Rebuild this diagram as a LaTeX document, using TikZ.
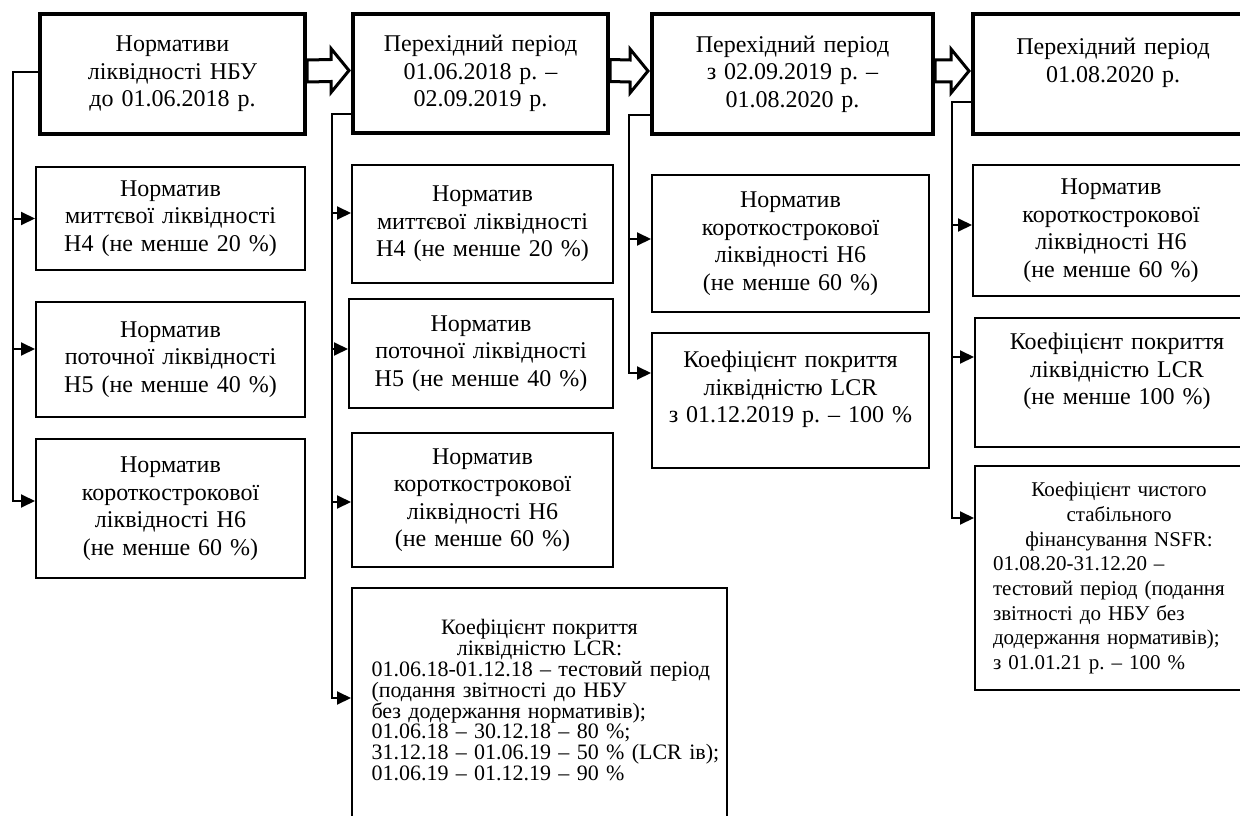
\documentclass[tikz,border=0pt]{standalone}
\usepackage{fontspec}
\setmainfont{Liberation Serif}
\frenchspacing
\usetikzlibrary{arrows.meta}

\tikzset{
	stagebox/.style={draw, line width=4pt, align=center, text width=240pt, inner sep=2pt, font=\fontsize{24}{27.5}\selectfont},
	normbox/.style={draw, line width=2pt, align=center, text width=240pt, inner sep=2pt, font=\fontsize{24}{27.5}\selectfont},
	feed/.style={line width=2pt, -{Triangle[length=14pt,width=13pt]}},
	blockarr/.style={draw, line width=3pt, fill=white},
}

\begin{document}
\begin{tikzpicture}[x=1pt,y=-1pt]
	\path[use as bounding box, clip] (0,0) rectangle (1240,816);

	\node[stagebox, minimum width=265, minimum height=120] (top1) at (172.5,74) {Нормативи\\ліквідності НБУ\\до 01.06.2018 р.};
	\node[stagebox, minimum width=255, minimum height=119] (top2) at (480.5,73.5) {Перехідний період\\01.06.2018 р. –\\02.09.2019 р.};
	\node[stagebox, minimum width=281, minimum height=120] (top3) at (792.5,74) {Перехідний період\\з 02.09.2019 р. –\\01.08.2020 р.};
	\node[stagebox, minimum width=280, minimum height=120] (top4) at (1113,74) {Перехідний період\\01.08.2020 р.\\\mbox{}};

	\node[normbox, minimum width=269, minimum height=103] (c1a) at (170.5,218.5) {Норматив\\миттєвої ліквідності\\Н4 (не менше 20~\%)};
	\node[normbox, minimum width=269, minimum height=115] (c1b) at (170.5,359.5) {Норматив\\поточної ліквідності\\Н5 (не менше 40~\%)};
	\node[normbox, minimum width=269, minimum height=139] (c1c) at (170.5,508.5) {Норматив\\короткострокової\\ліквідності Н6\\(не менше 60~\%)};

	\node[normbox, minimum width=261, minimum height=118] (c2a) at (482.5,224) {Норматив\\миттєвої ліквідності\\Н4 (не менше 20~\%)};
	\node[normbox, minimum width=264, minimum height=109] (c2b) at (481,353.5) {Норматив\\поточної ліквідності\\Н5 (не менше 40~\%)};
	\node[normbox, minimum width=261, minimum height=134] (c2c) at (482.5,500) {Норматив\\короткострокової\\ліквідності Н6\\(не менше 60~\%)};
	\node[normbox, align=left, text width=370pt, minimum width=375, minimum height=245, font=\fontsize{22}{20.8}\selectfont] (c2d) at (539.5,710.5) {%
		{\centering Коефіцієнт покриття\\ліквідністю LCR:\par}
		\leftskip=17pt
		01.06.18-01.12.18 – тестовий період\\
		(подання звітності до НБУ\\
		без додержання нормативів);\\
		01.06.18 – 30.12.18 – 80~\%;\\
		31.12.18 – 01.06.19 – 50~\% (LCR ів);\\
		01.06.19 – 01.12.19 – 90~\%\\
		\mbox{}};

	\node[normbox, minimum width=277, minimum height=137] (c3a) at (790.5,243.5) {Норматив\\короткострокової\\ліквідності Н6\\(не менше 60~\%)};
	\node[normbox, text width=265pt, minimum width=277, minimum height=135] (c3b) at (790.5,400.5) {Коефіцієнт покриття\\ліквідністю LCR\\з 01.12.2019 р. – 100~\%\\\mbox{}};

	\node[normbox, minimum width=276, minimum height=131] (c4a) at (1111,230.5) {Норматив\\короткострокової\\ліквідності Н6\\(не менше 60~\%)};
	\node[normbox, minimum width=284, minimum height=129] (c4b) at (1117,382.5) {Коефіцієнт покриття\\ліквідністю LCR\\(не менше 100~\%)\\\mbox{}};
	\node[normbox, align=left, text width=252pt, minimum width=288, minimum height=224, font=\fontsize{21}{24.7}\selectfont] (c4c) at (1119,578) {%
		{\centering Коефіцієнт чистого\\стабільного\\фінансування NSFR:\par}
		01.08.20-31.12.20 –\\
		тестовий період (подання\\
		звітності до НБУ без\\
		додержання нормативів);\\
		з 01.01.21 р. – 100~\%};

	\foreach \a/\b in {top1/top2, top2/top3, top3/top4}
		\draw[blockarr] ([yshift=14pt]\a.east) -- ([xshift=-20pt,yshift=14pt]\b.west) -- ([xshift=-20pt,yshift=25pt]\b.west) -- ([xshift=-2pt,yshift=3pt]\b.west) -- ([xshift=-20pt,yshift=-19pt]\b.west) -- ([xshift=-20pt,yshift=-8pt]\b.west) -- ([yshift=-8pt]\a.east) -- cycle;

	\coordinate (rail1) at (13,72);
	\coordinate (rail2) at (332,114);
	\coordinate (rail3) at (629,115);
	\coordinate (rail4) at (952,102);

	\foreach \t/\r/\b/\s in {top1/rail1/c1a/0, top1/rail1/c1b/10.5, top1/rail1/c1c/7.5,
		top2/rail2/c2a/11, top2/rail2/c2b/4.5, top2/rail2/c2c/-2, top2/rail2/c2d/12.5,
		top3/rail3/c3a/4.5, top3/rail3/c3b/27.5,
		top4/rail4/c4a/5.5, top4/rail4/c4b/25.5, top4/rail4/c4c/60}
		\draw[feed] (\t.west |- \r) -- (\r) |- ([yshift=\s pt]\b.west);
\end{tikzpicture}
\end{document}
